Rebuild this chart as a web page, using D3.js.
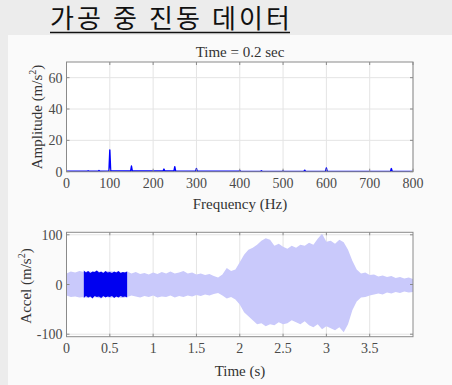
<!DOCTYPE html>
<html>
<head>
<meta charset="utf-8">
<script src="https://cdn.jsdelivr.net/npm/d3@7"></script>
<style>
  html, body { margin: 0; padding: 0; background: #ececec; }
  svg { display: block; }
</style>
</head>
<body>
<svg id="chart" width="452" height="385"></svg>
<script>
// spectrum at t = 0.2 s (frequency breakpoints / amplitudes)
const specFreq = [0, 48, 50, 52, 73, 75, 77, 98, 100, 102, 148, 150, 152, 223, 225, 227,
  248, 250, 252, 298, 300, 302, 398, 400, 402, 448, 450, 452, 498, 500, 502,
  548, 550, 552, 598, 600, 602, 748, 750, 752, 800];
const specAmp = [0.3, 0.3, 0.6, 0.3, 0.3, 0.8, 0.3, 0.5, 13.8, 0.5, 0.4, 3.6, 0.4, 0.4, 1.7, 0.4,
  0.4, 3.2, 0.4, 0.3, 2.0, 0.3, 0.3, 0.8, 0.3, 0.2, 0.6, 0.2, 0.2, 0.5, 0.2,
  0.2, 1.0, 0.2, 0.3, 2.4, 0.3, 0.2, 2.0, 0.2, 0.2];
const freqTicks = [0, 100, 200, 300, 400, 500, 600, 700, 800];
const ampTicks = [0, 20, 40, 60];

// acceleration envelope, sampled every 0.05 s from 0 to 4 s
const envTime = d3.range(81).map(i => +(i * 0.05).toFixed(2));
const envUpper = [22, 26, 24, 27, 25, 27, 25, 28, 24, 26, 27, 25, 26, 24, 26,
  22, 25, 21, 23, 20, 24, 21, 25, 22, 26, 22, 24, 27, 22, 24,
  20, 22, 19, 21, 17, 14, 20, 33, 27, 30, 45, 60, 70, 74, 80,
  88, 93, 90, 78, 82, 76, 72, 78, 74, 80, 78, 84, 80, 92, 102,
  86, 88, 82, 90, 85, 70, 48, 30, 22, 24, 19, 20, 16, 18, 15,
  17, 13, 15, 12, 14, 11];
const envLower = [-22, -25, -24, -26, -25, -27, -25, -26, -28, -24, -27, -25, -26, -27, -25,
  -22, -24, -26, -23, -25, -22, -26, -24, -25, -22, -26, -23, -25, -22, -24,
  -21, -23, -20, -22, -19, -17, -22, -28, -25, -30, -40, -56, -64, -72, -80,
  -78, -84, -80, -82, -76, -80, -78, -72, -76, -80, -74, -82, -86, -80, -90,
  -84, -88, -92, -86, -96, -80, -52, -34, -26, -25, -22, -20, -18, -20, -16,
  -18, -15, -17, -14, -16, -15];

// highlighted window 0.2 - 0.7 s, sampled every 0.025 s
const winTime = d3.range(21).map(i => +(0.2 + i * 0.025).toFixed(3));
const winUpper = [28, 24, 27, 23, 26, 25, 28, 24, 26, 23, 27, 24, 25, 23, 26, 24, 27, 23, 25, 24, 26];
const winLower = [-27, -23, -26, -24, -28, -23, -25, -24, -27, -23, -26, -24, -25, -23, -27, -24, -26, -23, -25, -24, -26];
const timeTicks = [0, 0.5, 1, 1.5, 2, 2.5, 3, 3.5];
const timeTickLabels = ['0', '0.5', '1', '1.5', '2', '2.5', '3', '3.5'];
const accelTicks = [-100, 0, 100];

const svg = d3.select('#chart');
const serif = 'Liberation Serif, Times New Roman, serif';
const textCol = '#4a4a4a';
const frameCol = '#8a8a8a';
const gridCol = '#e4e4e4';

// korean heading
svg.append('text')
  .attr('x', 50).attr('y', 28)
  .attr('font-family', 'Noto Sans CJK KR, sans-serif')
  .attr('font-size', 26)
  .attr('fill', '#111')
  .attr('textLength', 240)
  .attr('lengthAdjust', 'spacing')
  .text('가공 중 진동 데이터');
svg.append('line')
  .attr('x1', 50).attr('x2', 290)
  .attr('y1', 32.5).attr('y2', 32.5)
  .attr('stroke', '#111').attr('stroke-width', 1.5);

// white slide panel
svg.append('rect')
  .attr('x', 8).attr('y', 35).attr('width', 444).attr('height', 350)
  .attr('fill', '#fafafa');

function drawAxes(g, x, y, xTicks, yTicks) {
  const [x0, x1] = x.range();
  const [y0, y1] = y.range();
  g.append('rect')
    .attr('x', x0).attr('y', y1).attr('width', x1 - x0).attr('height', y0 - y1)
    .attr('fill', '#fff');
  // grid
  g.append('g').selectAll('line').data(xTicks).enter().append('line')
    .attr('x1', d => x(d)).attr('x2', d => x(d))
    .attr('y1', y1).attr('y2', y0)
    .attr('stroke', gridCol);
  g.append('g').selectAll('line').data(yTicks).enter().append('line')
    .attr('x1', x0).attr('x2', x1)
    .attr('y1', d => y(d)).attr('y2', d => y(d))
    .attr('stroke', gridCol);
}

function drawFrame(g, x, y, xTicks, xLabels, yTicks, yLabels) {
  const [x0, x1] = x.range();
  const [y0, y1] = y.range();
  const tl = 3;
  // tick marks on all four sides, pointing in
  xTicks.forEach(t => {
    g.append('line').attr('x1', x(t)).attr('x2', x(t)).attr('y1', y0).attr('y2', y0 - tl)
      .attr('stroke', frameCol);
    g.append('line').attr('x1', x(t)).attr('x2', x(t)).attr('y1', y1).attr('y2', y1 + tl)
      .attr('stroke', frameCol);
  });
  yTicks.forEach(t => {
    g.append('line').attr('x1', x0).attr('x2', x0 + tl).attr('y1', y(t)).attr('y2', y(t))
      .attr('stroke', frameCol);
    g.append('line').attr('x1', x1).attr('x2', x1 - tl).attr('y1', y(t)).attr('y2', y(t))
      .attr('stroke', frameCol);
  });
  g.append('rect')
    .attr('x', x0).attr('y', y1).attr('width', x1 - x0).attr('height', y0 - y1)
    .attr('fill', 'none').attr('stroke', frameCol);

  g.append('g').selectAll('text').data(xTicks).enter().append('text')
    .attr('x', d => x(d)).attr('y', y0 + 16)
    .attr('text-anchor', 'middle')
    .attr('font-family', serif).attr('font-size', 14).attr('fill', textCol)
    .text((d, i) => xLabels[i]);
  g.append('g').selectAll('text').data(yTicks).enter().append('text')
    .attr('x', x0 - 4).attr('y', d => y(d) + 5)
    .attr('text-anchor', 'end')
    .attr('font-family', serif).attr('font-size', 14).attr('fill', textCol)
    .text((d, i) => yLabels[i]);
}

function yLabel(g, cx, cy, main) {
  const t = g.append('text')
    .attr('transform', `translate(${cx},${cy}) rotate(-90)`)
    .attr('text-anchor', 'middle')
    .attr('font-family', serif).attr('font-size', 15).attr('fill', '#333');
  t.append('tspan').text(main + ' (m/s');
  t.append('tspan').attr('font-size', 10).attr('dy', -6).text('2');
  t.append('tspan').attr('dy', 6).text(')');
}

// ---------- top: spectrum ----------
const xF = d3.scaleLinear().domain([0, 800]).range([66.5, 413]);
const yA = d3.scaleLinear().domain([0, 70]).range([171.7, 62]);
const specG = svg.append('g');
drawAxes(specG, xF, yA, freqTicks, ampTicks);
specG.append('path')
  .datum(specFreq.map((f, i) => [f, specAmp[i]]))
  .attr('d', d3.line().x(d => xF(d[0])).y(d => yA(d[1])))
  .attr('fill', 'none').attr('stroke', '#0000ff').attr('stroke-width', 1.4)
  .attr('stroke-linejoin', 'round');
drawFrame(specG, xF, yA, freqTicks, freqTicks.map(String), ampTicks, ampTicks.map(String));
specG.append('text')
  .attr('x', 240).attr('y', 57)
  .attr('text-anchor', 'middle')
  .attr('font-family', serif).attr('font-size', 15).attr('fill', '#333')
  .text('Time = 0.2 sec');
specG.append('text')
  .attr('x', 240).attr('y', 209)
  .attr('text-anchor', 'middle')
  .attr('font-family', serif).attr('font-size', 15).attr('fill', '#333')
  .text('Frequency (Hz)');
yLabel(specG, 42, 117, 'Amplitude');

// ---------- bottom: acceleration ----------
const xT = d3.scaleLinear().domain([0, 4]).range([66.5, 413]);
const yG = d3.scaleLinear().domain([-105, 105]).range([336.7, 232.3]);
const accG = svg.append('g');
drawAxes(accG, xT, yG, timeTicks, accelTicks);
const area = d3.area()
  .x(d => xT(d[0])).y0(d => yG(d[2])).y1(d => yG(d[1]));
accG.append('path')
  .datum(envTime.map((t, i) => [t, envUpper[i], envLower[i]]))
  .attr('d', area)
  .attr('fill', '#c9c9fb');
accG.append('path')
  .datum(winTime.map((t, i) => [t, winUpper[i], winLower[i]]))
  .attr('d', area)
  .attr('fill', '#0000f0');
drawFrame(accG, xT, yG, timeTicks, timeTickLabels, accelTicks, accelTicks.map(String));
accG.append('text')
  .attr('x', 240).attr('y', 376)
  .attr('text-anchor', 'middle')
  .attr('font-family', serif).attr('font-size', 15).attr('fill', '#333')
  .text('Time (s)');
yLabel(accG, 31, 286, 'Accel');
</script>
</body>
</html>
